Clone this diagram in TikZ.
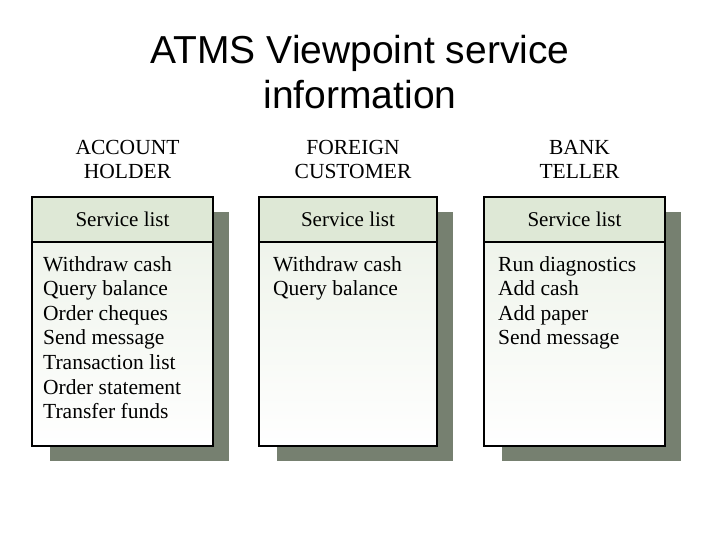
\documentclass[tikz,border=0pt]{standalone}
\usepackage{fontspec}
\setmainfont{Liberation Serif}
\newfontfamily\titlefont{Liberation Sans}
\definecolor{hdr}{RGB}{222,232,214}
\definecolor{shad}{RGB}{118,128,112}
\begin{document}
\begin{tikzpicture}[x=1pt,y=-1pt,
  shadowbox/.style={fill=shad,draw=none},
  mainbox/.style={draw=black,line width=1.5pt,bottom color=white,top color=hdr!60},
  hdrbox/.style={draw=black,line width=1.2pt,fill=hdr},
  role/.style={align=center,font=\fontsize{21.5}{24}\selectfont,anchor=north},
  hdrtext/.style={font=\fontsize{21}{22}\selectfont},
  items/.style={align=left,anchor=north west,font=\fontsize{21.5}{24.6}\selectfont,inner sep=0pt}]
\useasboundingbox (0,0) rectangle (720,540);
\node[font=\titlefont\fontsize{39}{45}\selectfont,align=center,anchor=north] (title) at (360,32) {ATMS Viewpoint service\\information};
\foreach \x/\w/\r/\n in {32/181/{ACCOUNT\\HOLDER}/a, 259/178/{FOREIGN\\CUSTOMER}/b, 484/181/{BANK\\TELLER}/c}{
  \fill[shadowbox] (\x+18,212) rectangle (\x+\w+16,461);
  \draw[mainbox] (\x,197) rectangle (\x+\w,446);
  \draw[hdrbox] (\x,197) rectangle (\x+\w,242);
  \node[role] (r\n) at (\x+\w/2+5,137) {\r};
  \node[hdrtext] (h\n) at (\x+\w/2,219) {Service list};
}
\node[items] (la) at (43,256) {Withdraw cash\\Query balance\\Order cheques\\Send message\\Transaction list\\Order statement\\Transfer funds};
\node[items] (lb) at (273,256) {Withdraw cash\\Query balance};
\node[items] (lc) at (498,256) {Run diagnostics\\Add cash\\Add paper\\Send message};
\end{tikzpicture}
\end{document}
